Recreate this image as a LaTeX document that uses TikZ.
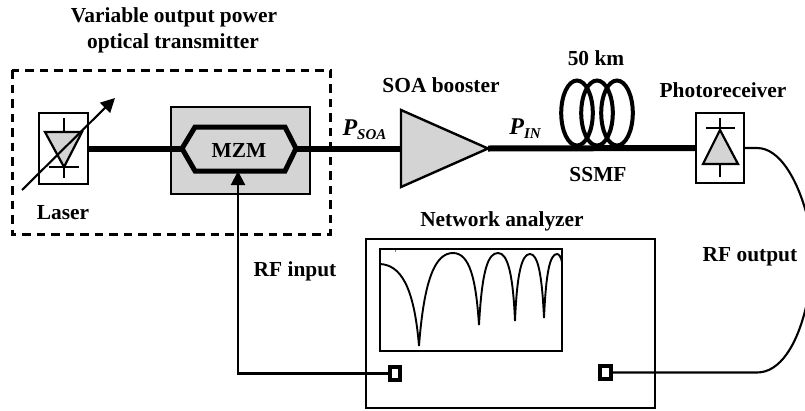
\documentclass[tikz,border=0pt]{standalone}
\usepackage{fontspec}
\setmainfont{Liberation Serif}
\usetikzlibrary{arrows.meta}
\definecolor{devicegray}{gray}{0.83}
\tikzset{
  label text/.style={font=\fontsize{21.4}{24}\selectfont\bfseries, inner sep=0pt, align=center},
  box/.style={draw, line width=1.8pt, inner sep=0pt},
  fiber/.style={line width=6pt},
  wire/.style={line width=2.1pt},
  coil/.style={line width=4pt},
  port/.style={draw, line width=4pt, fill=white, inner sep=0pt, minimum width=10.5pt, minimum height=13.5pt},
  bigtip/.style={-{Triangle[length=14pt,width=14pt]}},
}
\newcommand{\powerlabel}[1]{{\fontsize{24}{24}\selectfont\bfseries\itshape P}\raisebox{-4pt}{\fontsize{15}{15}\selectfont\bfseries\itshape #1}}

\begin{document}
\begin{tikzpicture}[x=1pt,y=-1pt]
        \clip (0,0) rectangle (805,410);
        % Define the blocks
        \node[box, fill=white, minimum width=49pt, minimum height=71pt] (laser) at (63.5,148.5) {};
        \node[box, fill=devicegray, line width=2.4pt, minimum width=139pt, minimum height=87pt] (mzm) at (240.5,150.5) {};
        \node[box, fill=white, minimum width=48pt, minimum height=70pt] (receiver) at (720,148) {};
        \node[box, line width=2.4pt, minimum width=289pt, minimum height=169pt] (analyzer) at (510.5,323.5) {};
        \node[box, line width=2pt, minimum width=182pt, minimum height=102pt] (screen) at (471,300) {};
        \node[port] (portin) at (395,373.5) {};
        \node[port] (portout) at (605.5,372.5) {};
        % Define other points
        \coordinate (hexL) at (182,148.5);
        \coordinate (hexR) at (296,148.5);
        \coordinate (hexB) at (238,171);
        \coordinate (soaT) at (401,110);
        \coordinate (soaB) at (401,187);
        \coordinate (soaL) at (401,148.5);
        \coordinate (soaR) at (488,148.5);
        \coordinate (rfcorner) at (238,373.5);
        % Transmitter frame
        \draw[line width=3pt, dash pattern=on 8.5pt off 6pt] (12,70) rectangle (330,234);
        % Fiber path
        \draw[fiber] (laser.east) -- (hexL);
        \draw[fiber] (hexR) -- (soaL);
        \draw[fiber] (soaR) -- (receiver.west);
        \draw[line width=5pt, line join=miter] (hexL) -- (195,127) -- (285,127) -- (hexR) -- (285,171) -- (195,171) -- cycle;
        % SOA
        \draw[fill=devicegray, line width=2.4pt] (soaT) -- (soaR) -- (soaB) -- cycle;
        % Fiber coil
        \foreach \cx in {577,597,617}
          \draw[coil] (\cx,113) ellipse (15.8 and 32.5);
        % Laser diode
        \draw[line width=2.2pt] (64,118) -- (64,132);
        \draw[fill=devicegray, line width=2.2pt] (45,132) -- (82,132) -- (64,167) -- cycle;
        \draw[line width=2.2pt] (49,167) -- (79,167);
        \draw[line width=2.2pt] (64,167) -- (64,178);
        \draw[wire, bigtip] (22,190) -- (115,98);
        % Receiver diode
        \draw[line width=2.2pt] (706,128) -- (735,128);
        \draw[line width=2.2pt] (720,118) -- (720,130);
        \draw[fill=devicegray, line width=2.2pt] (720,130) -- (738,164) -- (703,164) -- cycle;
        \draw[line width=2.2pt] (720,164) -- (720,177);
        % RF lines
        \draw[wire, bigtip] (portin.west) -- (rfcorner) -- (hexB);
        \draw[wire] (receiver.east) -- (757,148) .. controls (780,148) and (797,180) .. (806,212)
          .. controls (811,240) and (811,280) .. (806,307)
          .. controls (797,345) and (780,372.5) .. (757,372.5) -- (portout.east);
        % Response on the screen
        \fill (395.5,251) circle (0.7);
        \draw[line width=1.9pt] (380,264) .. controls (400,265) and (414,285) .. (419,346)
          .. controls (424,280) and (435,253) .. (453,253)
          .. controls (470,253) and (476,280) .. (479,325)
          .. controls (482,270) and (488,253) .. (498,253)
          .. controls (508,253) and (513,275) .. (515,321)
          .. controls (517,272) and (522,254) .. (530,254)
          .. controls (538,254) and (542,275) .. (544,318)
          .. controls (546,272) and (550,254) .. (557,254)
          .. controls (559,254) and (561,257) .. (562,262);
        % Labels
        \node[label text] (titleA) at (174,17) {Variable output power};
        \node[label text] (titleB) at (173,43) {optical transmitter};
        \node[label text] (laserlabel) at (63,213) {Laser};
        \node[label text] (mzmlabel) at (239,150.5) {MZM};
        \node[label text] (soalabel) at (441,85) {SOA booster};
        \node[label text] (kmlabel) at (596,58) {50 km};
        \node[label text] (ssmflabel) at (598,175) {SSMF};
        \node[label text] (receiverlabel) at (723,90) {Photoreceiver};
        \node[label text] (analyzerlabel) at (502,221) {Network analyzer};
        \node[label text] (rfinlabel) at (295,271) {RF input};
        \node[label text] (rfoutlabel) at (750,257) {RF output};
        \node[inner sep=0pt] (psoa) at (364.5,130) {\powerlabel{SOA}};
        \node[inner sep=0pt] (pin) at (525,128.5) {\powerlabel{IN}};
\end{tikzpicture}
\end{document}
